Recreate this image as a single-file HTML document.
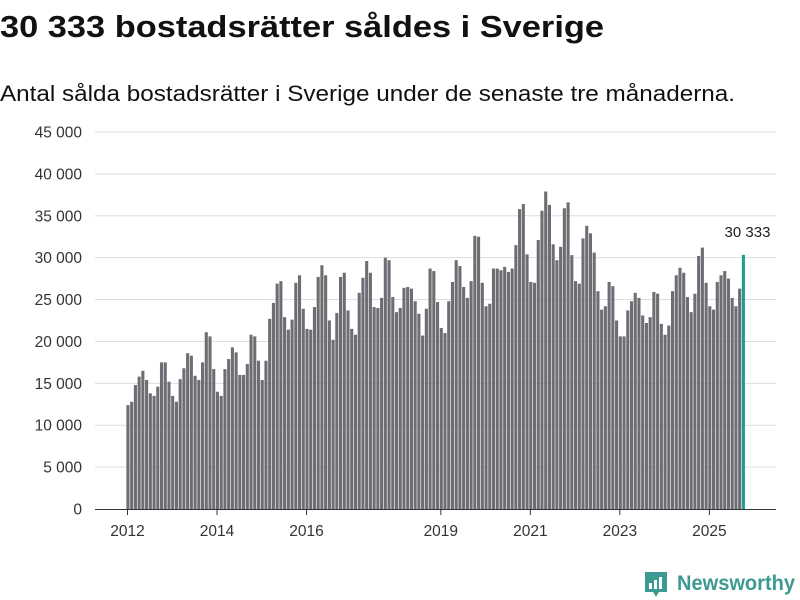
<!DOCTYPE html>
<html><head><meta charset="utf-8"><style>
html,body{margin:0;padding:0;background:#fff;width:800px;height:600px;overflow:hidden}
svg{display:block;font-family:"Liberation Sans","DejaVu Sans",sans-serif}
</style></head><body>
<svg id="chart" width="800" height="600" viewBox="0 0 800 600">
<text x="0" y="37" font-size="31" font-weight="bold" fill="#111" textLength="604" lengthAdjust="spacingAndGlyphs">30 333 bostadsrätter såldes i Sverige</text>
<text x="0" y="101" font-size="22" fill="#111" textLength="735" lengthAdjust="spacingAndGlyphs">Antal sålda bostadsrätter i Sverige under de senaste tre månaderna.</text>
<g id="grid"></g>
<g id="ylabels"></g>
<g id="bars"></g>
<g id="xaxis"></g>
<g>
<path d="M645 572 h22 v20 h-8 l-3 5 l-3 -5 h-8 z" fill="#3d9a92"/>
<rect x="649" y="583" width="3" height="6" fill="#fff"/><rect x="654" y="580" width="3" height="9" fill="#fff"/><rect x="659" y="577" width="3" height="12" fill="#fff"/>
<text x="677" y="590" font-size="21" font-weight="bold" fill="#3d9a92" textLength="118" lengthAdjust="spacingAndGlyphs">Newsworthy</text>
</g>
</svg>
<script>
const values = [12.4,12.8,14.8,15.8,16.5,15.4,13.8,13.5,14.6,17.5,17.5,15.2,
13.5,12.8,15.5,16.8,18.6,18.3,15.9,15.4,17.5,21.1,20.6,16.7,
14.0,13.5,16.7,17.9,19.3,18.7,16.0,16.0,17.3,20.8,20.6,17.7,
15.4,17.7,22.7,24.6,26.9,27.2,22.9,21.4,22.6,27.0,27.9,23.9,
21.5,21.4,24.1,27.7,29.1,27.9,22.5,20.2,23.4,27.7,28.2,23.7,
21.5,20.8,25.8,27.6,29.6,28.2,24.1,24.0,25.2,30.0,29.7,25.3,
23.5,24.0,26.4,26.5,26.3,24.8,23.3,20.7,23.9,28.7,28.4,24.7,
21.6,21.0,24.8,27.1,29.7,29.0,26.5,25.2,27.2,32.6,32.5,27.0,
24.2,24.5,28.7,28.7,28.5,28.9,28.3,28.7,31.5,35.8,36.4,30.4,
27.1,27.0,32.1,35.6,37.9,36.3,31.6,29.7,31.3,35.9,36.6,30.3,
27.2,26.9,32.3,33.8,32.9,30.6,26.0,23.8,24.2,27.1,26.6,22.5,
20.6,20.6,23.7,24.8,25.8,25.2,23.1,22.2,22.9,25.9,25.7,22.1,
20.8,21.9,26.0,27.9,28.8,28.2,25.3,23.5,25.7,30.2,31.2,27.0,
24.2,23.8,27.1,27.9,28.4,27.5,25.2,24.2,26.3,30.333];
const startYear = 2012;
const yTicks = [0,5000,10000,15000,20000,25000,30000,35000,40000,45000];
const yTickLabels = ["0","5 000","10 000","15 000","20 000","25 000","30 000","35 000","40 000","45 000"];
const xTickYears = [2012,2014,2016,2019,2021,2023,2025];
const lastLabel = "30 333";

const NS="http://www.w3.org/2000/svg";
const y0=509, pxPerK=377/45;
function yScale(v){return y0 - v/1000*pxPerK;}
function xScale(i){return 128.0 + i*3.73;}
function mk(tag,attrs,parent){const e=document.createElementNS(NS,tag);for(const k in attrs)e.setAttribute(k,attrs[k]);parent.appendChild(e);return e;}
const grid=document.getElementById('grid'), yl=document.getElementById('ylabels'), bars=document.getElementById('bars'), xa=document.getElementById('xaxis');
yTicks.forEach((t,i)=>{
  if(t>0){const l=mk('line',{x1:95,x2:776,y1:yScale(t),y2:yScale(t),stroke:'#dddddd','stroke-width':1},grid);
  
  }
  const tx=mk('text',{x:82,y:yScale(t)+5.5,'font-size':15.5,fill:'#333','text-anchor':'end'},yl);
  tx.textContent=yTickLabels[i];
  
  
});
values.forEach((v,i)=>{
  const last=i===values.length-1;
  const r=mk('rect',{x:xScale(i)-1.6,y:yScale(v*1000),width:3.1,height:y0-yScale(v*1000),fill:last?'#1f9e8f':'#6e6d73'},bars);
  
  
});
const li=values.length-1;
const lt=mk('text',{x:xScale(li)+27,y:yScale(values[li]*1000)-18,'font-size':15,fill:'#222','text-anchor':'end'},bars);
lt.textContent=lastLabel;


const ax=mk('line',{x1:95,x2:776,y1:y0+0.5,y2:y0+0.5,stroke:'#333','stroke-width':1},xa);


xTickYears.forEach(yr=>{
  const x=xScale((yr-startYear)*12)-0.5;
  const tk=mk('line',{x1:x,x2:x,y1:y0,y2:y0+6,stroke:'#333'},xa);
  
  
  const t=mk('text',{x:x,y:536,'font-size':15.5,fill:'#333','text-anchor':'middle'},xa);
  t.textContent=yr;
  
  
});
</script>
</body></html>
